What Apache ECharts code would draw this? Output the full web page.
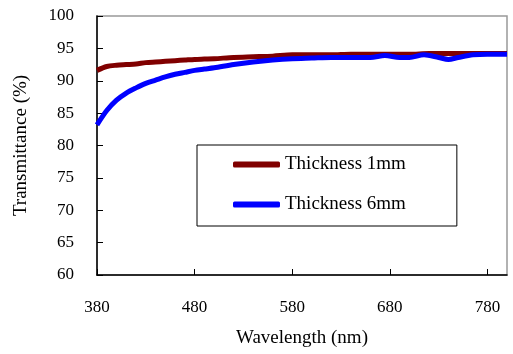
<!DOCTYPE html>
<html>
<head>
<meta charset="utf-8">
<script src="https://cdn.jsdelivr.net/npm/echarts@6/dist/echarts.min.js"></script>
<style>
  html, body { margin: 0; padding: 0; background: #fff; }
  #chart { width: 513px; height: 354px; }
</style>
</head>
<body>
<div id="chart"></div>
<script>
// wavelength (nm) sample points
const wavelength1 = [380, 390, 400, 410, 420, 430, 440, 450, 460, 470, 480, 490, 500, 520, 540, 560, 580, 600, 620, 640, 660, 680, 700, 720, 740, 760, 780, 800];
const thick1mm =    [91.6, 92.2, 92.4, 92.5, 92.6, 92.8, 92.9, 93.0, 93.1, 93.2, 93.3, 93.35, 93.4, 93.6, 93.7, 93.8, 94.0, 94.0, 94.0, 94.1, 94.1, 94.1, 94.1, 94.2, 94.2, 94.2, 94.2, 94.2];

const wavelength6 = [380, 390, 400, 410, 420, 430, 440, 450, 460, 470, 480, 490, 500, 520, 540, 560, 580, 600, 620, 640, 660, 675, 690, 700, 715, 730, 740, 750, 765, 780, 800];
const thick6mm =    [83.2, 85.4, 87.0, 88.1, 88.9, 89.6, 90.1, 90.6, 91.0, 91.3, 91.6, 91.8, 92.0, 92.5, 92.9, 93.2, 93.4, 93.5, 93.6, 93.6, 93.6, 93.9, 93.6, 93.6, 94.0, 93.6, 93.3, 93.6, 94.0, 94.1, 94.1];

const seriesNames = ['Thickness 1mm', 'Thickness 6mm'];
const FONT = "'Liberation Serif', 'Times New Roman', serif";

function pairs(xs, ys) {
    return xs.map((x, i) => [x, ys[i]]);
}

const chart = echarts.init(document.getElementById('chart'));

const option = {
    animation: false,
    grid: {
        left: 97, top: 16, right: 6, bottom: 79,
        show: true, borderColor: '#999', borderWidth: 1.5
    },
    legend: {
        orient: 'vertical',
        left: 197, top: 145,
        padding: [10, 51, 12, 36],
        itemGap: 21,
        itemWidth: 47, itemHeight: 6,
        icon: 'roundRect',
        borderColor: '#000', borderWidth: 1,
        textStyle: { fontFamily: FONT, fontSize: 19, color: '#000' },
        data: seriesNames
    },
    xAxis: {
        type: 'value',
        min: 380, max: 800, interval: 100,
        name: 'Wavelength (nm)',
        nameLocation: 'middle', nameGap: 54,
        nameTextStyle: { fontFamily: FONT, fontSize: 19, color: '#000' },
        axisLine: { lineStyle: { color: '#000', width: 1.5 } },
        axisTick: { inside: true, length: 6, lineStyle: { color: '#000' } },
        axisLabel: { showMaxLabel: false, margin: 24, fontFamily: FONT, fontSize: 17, color: '#000' },
        splitLine: { show: false }
    },
    yAxis: {
        type: 'value',
        min: 60, max: 100, interval: 5,
        name: 'Transmittance (%)',
        nameLocation: 'middle', nameGap: 66,
        nameTextStyle: { fontFamily: FONT, fontSize: 19, color: '#000' },
        axisLine: { show: true, lineStyle: { color: '#000', width: 1.5 } },
        axisTick: { show: true, inside: true, length: 6, lineStyle: { color: '#000' } },
        axisLabel: { margin: 23, fontFamily: FONT, fontSize: 17, color: '#000' },
        splitLine: { show: false }
    },
    series: [
        {
            name: seriesNames[0],
            type: 'line',
            showSymbol: false,
            smooth: 0.3,
            data: pairs(wavelength1, thick1mm),
            itemStyle: { color: '#800000' },
            lineStyle: { color: '#800000', width: 5 }
        },
        {
            name: seriesNames[1],
            type: 'line',
            showSymbol: false,
            smooth: 0.3,
            data: pairs(wavelength6, thick6mm),
            itemStyle: { color: '#0000ff' },
            lineStyle: { color: '#0000ff', width: 5 }
        }
    ]
};

chart.setOption(option);
</script>
</body>
</html>
